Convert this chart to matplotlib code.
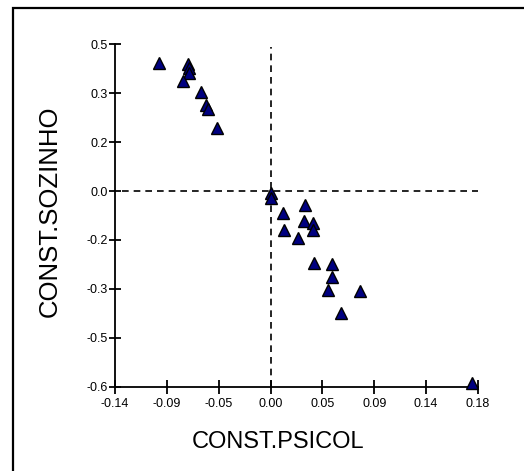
import numpy as np
import matplotlib.pyplot as plt
from matplotlib.patches import Rectangle

# data
psicol = [-0.0968, -0.0717, -0.0708, -0.0708, -0.0757, -0.0608, -0.0561, -0.0546,
          -0.0465, 0.0000, 0.0006, 0.0108, 0.0300, 0.0290, 0.0370, 0.0370,
          0.0119, 0.0240, 0.0377, 0.0533, 0.0537, 0.0498, 0.0780, 0.0608, 0.1745]
sozinho = [0.393, 0.388, 0.376, 0.363, 0.336, 0.304, 0.265, 0.250,
           0.193, -0.006, -0.021, -0.067, -0.044, -0.091, -0.097, -0.121,
           -0.121, -0.144, -0.220, -0.225, -0.264, -0.302, -0.307, -0.374, -0.588]

xtick_labels = ['-0.14', '-0.09', '-0.05', '0.00', '0.05', '0.09', '0.14', '0.18']
ytick_labels = ['-0.6', '-0.5', '-0.3', '-0.2', '0.0', '0.2', '0.3', '0.5']

plt.rcParams['font.family'] = ['Liberation Sans', 'DejaVu Sans']

fig = plt.figure(figsize=(5.24, 4.71), dpi=100)
ax = fig.add_axes([0.2195, 0.179, 0.6927, 0.727])

# outer frame
fig.patches.append(Rectangle((13 / 524, -0.1), 2.0, 1.1 - 8 / 471,
                             transform=fig.transFigure, fill=False,
                             edgecolor='black', lw=1.6))

xmin, xmax = -0.135, 0.18
ymin, ymax = -0.6, 0.45

# reference lines through zero
ax.plot([-0.129, xmax], [0, 0], color='black', lw=1.2, ls=(0, (4, 3)), zorder=1)
ax.plot([0, 0], [ymin, 0.443], color='black', lw=1.2, ls=(0, (4, 3)), zorder=1)

ax.plot(psicol, sozinho, linestyle='none', marker='^', markersize=8.8,
        markerfacecolor='#000080', markeredgecolor='black', markeredgewidth=1.0,
        clip_on=False, zorder=3)

ax.set_xlim(xmin, xmax)
ax.set_ylim(ymin, ymax)
ax.set_xticks(np.linspace(xmin, xmax, len(xtick_labels)))
ax.set_xticklabels(xtick_labels)
ax.set_yticks(np.linspace(ymin, ymax, len(ytick_labels)))
ax.set_yticklabels(ytick_labels)

for s in ['top', 'right']:
    ax.spines[s].set_visible(False)
for s in ['left', 'bottom']:
    ax.spines[s].set_linewidth(1.3)

ax.tick_params(axis='x', direction='inout', length=10, width=1.3, pad=3, labelsize=9)
ax.tick_params(axis='y', direction='inout', length=8, width=1.3, pad=1.5, labelsize=9)

ax.set_xlabel('CONST.PSICOL', fontsize=17, va='center')
ax.xaxis.set_label_coords(0.450, -0.1615)
ax.set_ylabel('CONST.SOZINHO', fontsize=18.5, va='center')
ax.yaxis.set_label_coords(-0.179, 0.513)

plt.savefig('out.png', dpi=100)
